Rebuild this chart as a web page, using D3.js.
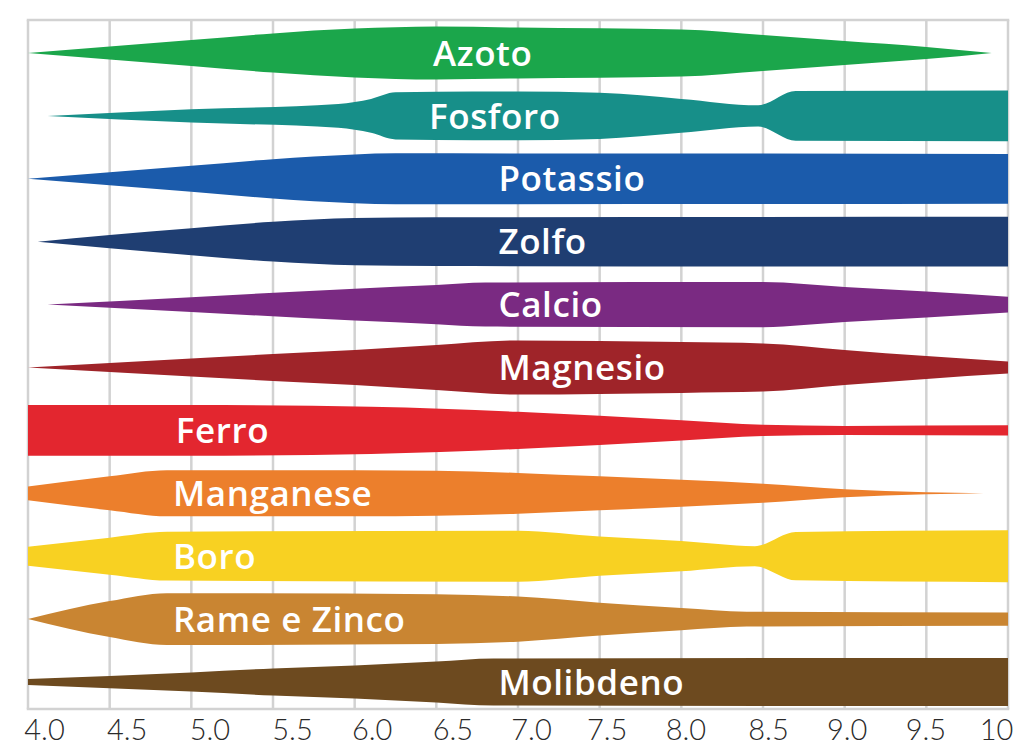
<!DOCTYPE html>
<html>
<head>
<meta charset="utf-8">
<script src="https://cdn.jsdelivr.net/npm/d3@7"></script>
<style>
  body { margin: 0; background: #fff; }
  svg { display: block; }
</style>
</head>
<body>
<div id="chart"></div>
<script>
// nutrients from top to bottom
var nutrients = ["Azoto", "Fosforo", "Potassio", "Zolfo", "Calcio", "Magnesio",
                 "Ferro", "Manganese", "Boro", "Rame e Zinco", "Molibdeno"];

var palette = ["#1ba64b", "#178f89", "#1b5bab", "#1f3e72", "#7a2a82", "#9f2429",
               "#e3262f", "#ec7f2c", "#f8d122", "#c98532", "#6d4a1f"];

var phTicks = [4.0, 4.5, 5.0, 5.5, 6.0, 6.5, 7.0, 7.5, 8.0, 8.5, 9.0, 9.5, 10];

// [pH, relative availability 0-100]
var azoto     = [[4.0, 0], [5.0, 49], [5.5, 74], [6.0, 92], [6.5, 100], [7.0, 96], [8.0, 89], [8.5, 68], [9.0, 45], [9.5, 23], [9.9, 0]];
var fosforo   = [[4.12, 0], [5.0, 25], [5.9, 45], [6.1, 64], [6.25, 89], [6.5, 91], [7.0, 92], [7.5, 87], [8.0, 64], [8.47, 40], [8.7, 94], [10, 96]];
var potassio  = [[4.0, 0], [5.0, 49], [5.5, 74], [6.0, 92], [6.25, 96], [10, 94]];
var zolfo     = [[4.06, 0], [4.5, 25], [5.0, 51], [5.5, 75], [6.0, 89], [6.5, 92], [10, 94]];
var calcio    = [[4.12, 0], [5.0, 28], [6.0, 60], [6.5, 74], [6.8, 83], [8.5, 85], [9.0, 66], [9.5, 49], [10, 30]];
var magnesio  = [[4.0, 0], [5.0, 34], [5.5, 51], [6.0, 66], [6.5, 85], [7.0, 102], [8.0, 96], [8.5, 91], [9.0, 66], [9.5, 43], [10, 23]];
var ferro     = [[4.0, 96], [5.0, 96], [6.1, 89], [7.0, 70], [7.5, 55], [8.0, 38], [8.5, 21], [9.0, 17], [10, 19]];
var manganese = [[4.0, 26], [4.5, 64], [4.85, 87], [6.0, 87], [6.5, 85], [7.0, 77], [7.5, 64], [8.0, 51], [8.5, 36], [9.0, 15], [9.5, 4], [9.85, 0]];
var boro      = [[4.0, 36], [4.5, 70], [4.85, 92], [7.0, 96], [7.5, 74], [8.0, 57], [8.45, 38], [8.7, 91], [10, 98]];
var rameZinco = [[4.0, 0], [4.5, 68], [4.85, 98], [6.5, 94], [7.0, 85], [7.5, 62], [8.0, 42], [8.4, 28], [10, 25]];
var molibdeno = [[4.0, 11], [5.0, 36], [5.5, 51], [6.0, 62], [6.5, 77], [6.85, 89], [10, 91]];

var profiles = [azoto, fosforo, potassio, zolfo, calcio, magnesio,
                ferro, manganese, boro, rameZinco, molibdeno];

// layout
var width = 1023, height = 756;
var plot = { left: 28, right: 1008, top: 20, bottom: 709 };
// pH where each label starts
var labelStart = [6.48, 6.455, 6.88, 6.88, 6.88, 6.88, 4.905, 4.887, 4.887, 4.887, 6.88];
// small horizontal nudges of the tick labels, as in the printed figure
var tickNudge = [16, 17, 18, 19, 17, 16, 13, 7, 4, 5, 2, -1, -12];

var svg = d3.select("#chart")
    .append("svg")
    .attr("width", width)
    .attr("height", height);

var x = d3.scaleLinear()
    .domain([4, 10])
    .range([plot.left, plot.right]);

var y = d3.scalePoint()
    .domain(nutrients)
    .range([53, 682]);

var thick = d3.scaleLinear()
    .domain([0, 100])
    .range([0, 53]);

// grid
var grid = svg.append("g")
    .attr("stroke", "#d2d2d2")
    .attr("stroke-width", 2.5);

grid.selectAll("line.v")
    .data(phTicks)
    .enter().append("line")
    .attr("class", "v")
    .attr("x1", function (d) { return x(d); })
    .attr("x2", function (d) { return x(d); })
    .attr("y1", plot.top)
    .attr("y2", plot.bottom);

grid.selectAll("line.h")
    .data([plot.top, plot.bottom])
    .enter().append("line")
    .attr("class", "h")
    .attr("x1", plot.left - 1.25)
    .attr("x2", plot.right + 1.25)
    .attr("y1", function (d) { return d; })
    .attr("y2", function (d) { return d; });

// bands
svg.append("g")
    .selectAll("path")
    .data(profiles)
    .enter().append("path")
    .attr("fill", function (d, i) { return palette[i]; })
    .attr("d", function (d, i) {
        var cy = y(nutrients[i]);
        var area = d3.area()
            .curve(d3.curveMonotoneX)
            .x(function (p) { return x(p[0]); })
            .y0(function (p) { return cy + thick(p[1]) / 2; })
            .y1(function (p) { return cy - thick(p[1]) / 2; });
        return area(d);
    });

// labels
svg.append("g")
    .selectAll("text")
    .data(nutrients)
    .enter().append("text")
    .attr("x", function (d, i) { return x(labelStart[i]); })
    .attr("y", function (d) { return y(d); })
    .attr("dy", "0.36em")
    .attr("fill", "#fff")
    .style("font-family", "'Open Sans', sans-serif")
    .style("font-weight", 600)
    .style("font-size", "35px")
    .style("letter-spacing", "0.6px")
    .text(function (d) { return d; });

// x axis
var axis = svg.append("g")
    .attr("transform", "translate(0," + plot.bottom + ")")
    .call(d3.axisBottom(x)
        .tickValues(phTicks)
        .tickSize(0)
        .tickFormat(function (d) { return d === 10 ? "10" : d.toFixed(1); }));

axis.select(".domain").remove();
axis.selectAll("text")
    .attr("y", 31)
    .attr("dy", null)
    .attr("dx", function (d, i) { return tickNudge[i]; })
    .attr("fill", "#2a2a2a")
    .style("font-family", "Lato, sans-serif")
    .style("font-weight", 300)
    .style("font-size", "29px");
</script>
</body>
</html>
